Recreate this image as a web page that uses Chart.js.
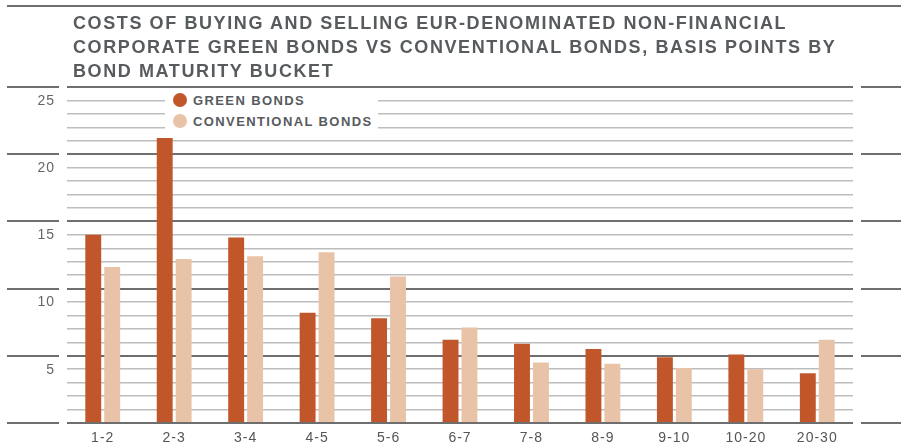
<!DOCTYPE html>
<html>
<head>
<meta charset="utf-8">
<script src="https://cdn.jsdelivr.net/npm/chart.js@4"></script>
<style>
  html, body { margin: 0; padding: 0; background: #fff; }
  #wrap { position: relative; width: 901px; height: 445px; overflow: hidden; }
  #title { position: absolute; left: 73px; top: 11px; margin: 0;
    font-family: "Liberation Sans", Arial, sans-serif; font-weight: bold; font-size: 18px;
    line-height: 24px; letter-spacing: 1.6px; color: #575b5e; }
  #legend { position: absolute; left: 165px; top: 90px; width: 213px; height: 43px; background: #fff;
    font-family: "Liberation Sans", Arial, sans-serif; font-weight: bold; font-size: 13px;
    letter-spacing: 1.4px; color: #575b5e; }
  .item { position: absolute; left: 8px; height: 16px; line-height: 16px; white-space: nowrap; }
  .dot { display: inline-block; width: 14px; height: 14px; border-radius: 50%; vertical-align: -2px; margin-right: 6px; }
</style>
</head>
<body>
<div id="wrap">
  <canvas id="c" width="901" height="445"></canvas>
  <div id="title">COSTS OF BUYING AND SELLING EUR-DENOMINATED NON-FINANCIAL<br>CORPORATE GREEN BONDS VS CONVENTIONAL BONDS, BASIS POINTS BY<br>BOND MATURITY BUCKET</div>
  <div id="legend"></div>
</div>
<script>
const categories = ["1-2", "2-3", "3-4", "4-5", "5-6", "6-7", "7-8", "8-9", "9-10", "10-20", "20-30"];
const greenBonds = [14.0, 21.2, 13.8, 8.2, 7.8, 6.2, 5.9, 5.5, 4.9, 5.1, 3.7];
const conventionalBonds = [11.6, 12.2, 12.4, 12.7, 10.9, 7.1, 4.5, 4.4, 4.1, 4.0, 6.2];
const seriesNames = ["GREEN BONDS", "CONVENTIONAL BONDS"];
const seriesColors = ["#c0562a", "#e8c3a8"];
const yLabelValues = [5, 10, 15, 20, 25];

// HTML legend
const legendEl = document.getElementById('legend');
seriesNames.forEach((name, i) => {
  const d = document.createElement('div');
  d.className = 'item';
  d.style.top = (i === 0 ? 3 : 24) + 'px';
  d.innerHTML = '<span class="dot" style="background:' + seriesColors[i] + '"></span>' + name;
  legendEl.appendChild(d);
});

const decor = {
  id: 'decor',
  beforeDraw(chart) {
    chart.ctx.letterSpacing = '1px';
  },
  afterDraw(chart) {
    const ctx = chart.ctx;
    const y = chart.scales.y;
    ctx.save();
    ctx.strokeStyle = '#6e6e6e';
    ctx.lineWidth = 2;
    ctx.beginPath();
    ctx.moveTo(7, 6); ctx.lineTo(901, 6);
    [0, 5, 10, 15, 20, 25].forEach(v => {
      const py = Math.round(y.getPixelForValue(v));
      ctx.moveTo(7, py); ctx.lineTo(59, py);
      ctx.moveTo(861, py); ctx.lineTo(901, py);
    });
    ctx.stroke();
    ctx.restore();
  }
};

new Chart(document.getElementById('c'), {
  type: 'bar',
  data: {
    labels: categories,
    datasets: [
      { label: seriesNames[0], data: greenBonds, backgroundColor: seriesColors[0] },
      { label: seriesNames[1], data: conventionalBonds, backgroundColor: seriesColors[1] }
    ]
  },
  options: {
    responsive: false,
    devicePixelRatio: 1,
    animation: false,
    layout: { padding: { left: 0, right: 48, top: 87, bottom: 0 } },
    datasets: { bar: { categoryPercentage: 0.53, barPercentage: 0.84 } },
    plugins: { legend: { display: false }, title: { display: false }, tooltip: { enabled: false } },
    scales: {
      x: {
        grid: { display: false, drawTicks: false },
        border: { display: false },
        ticks: { color: '#555', font: { family: 'Liberation Sans', size: 14 }, padding: 7, maxRotation: 0, autoSkip: false },
        afterFit(s) { s.height = 22; }
      },
      y: {
        min: 0, max: 25,
        grid: {
          drawTicks: false,
          color: c => (c.tick && c.tick.value % 5 === 0) ? '#6e6e6e' : '#bdbdbd',
          lineWidth: c => (c.tick && c.tick.value % 5 === 0) ? 2 : 1.5
        },
        border: { display: false },
        ticks: {
          stepSize: 1, maxTicksLimit: 100, autoSkip: false,
          color: '#666', font: { family: 'Liberation Sans', size: 14 }, padding: 12, labelOffset: 14,
          callback: v => yLabelValues.includes(v) ? String(v) : ''
        },
        afterFit(s) { s.width = 67; }
      }
    }
  },
  plugins: [decor]
});
</script>
</body>
</html>
